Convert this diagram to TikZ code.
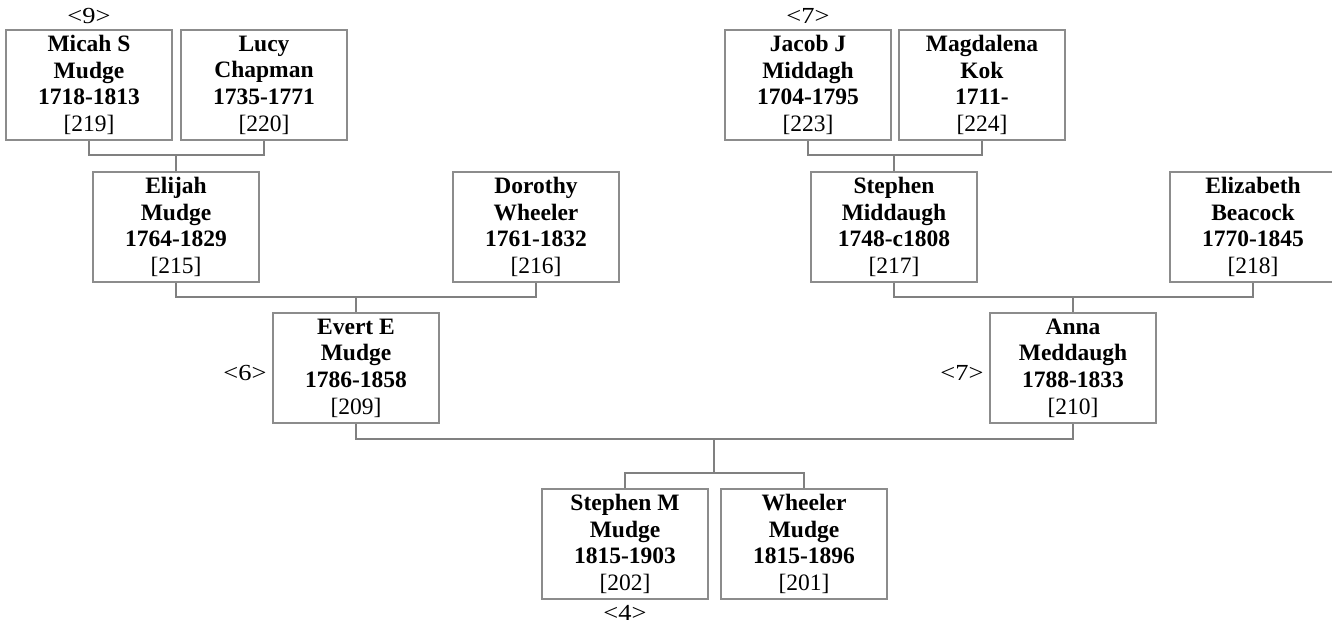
\documentclass[tikz,border=0pt]{standalone}
\usepackage{fontspec}
\usepackage{graphicx}
\setmainfont{Liberation Serif}
\newcommand{\tagtext}[1]{\scalebox{1.15}[1]{#1}}
\begin{document}
\begin{tikzpicture}[x=1pt,y=-1pt,
  person/.style={draw=black!45,line width=1.1pt,minimum width=166pt,minimum height=110pt,inner sep=0pt,align=center,font=\fontsize{23.5}{26.7}\selectfont},
  tag/.style={font=\fontsize{23}{26.7}\selectfont,inner sep=0pt,anchor=center},
  link/.style={draw=black!50,line width=1.1pt}]
\useasboundingbox (0,0) rectangle (1332,625);
% row 1
\node[person] (micah) at (89,85) {\textbf{Micah S}\\\textbf{Mudge}\\\textbf{1718-1813}\\{}[219]};
\node[person] (lucy) at (264,85) {\textbf{Lucy}\\\textbf{Chapman}\\\textbf{1735-1771}\\{}[220]};
\node[person] (jacob) at (808,85) {\textbf{Jacob J}\\\textbf{Middagh}\\\textbf{1704-1795}\\{}[223]};
\node[person] (magda) at (982,85) {\textbf{Magdalena}\\\textbf{Kok}\\\textbf{1711-}\\{}[224]};
% row 2
\node[person] (elijah) at (176,227) {\textbf{Elijah}\\\textbf{Mudge}\\\textbf{1764-1829}\\{}[215]};
\node[person] (dorothy) at (536,227) {\textbf{Dorothy}\\\textbf{Wheeler}\\\textbf{1761-1832}\\{}[216]};
\node[person] (stephen) at (894,227) {\textbf{Stephen}\\\textbf{Middaugh}\\\textbf{1748-c1808}\\{}[217]};
\node[person] (eliz) at (1253,227) {\textbf{Elizabeth}\\\textbf{Beacock}\\\textbf{1770-1845}\\{}[218]};
% row 3
\node[person] (evert) at (356,368) {\textbf{Evert E}\\\textbf{Mudge}\\\textbf{1786-1858}\\{}[209]};
\node[person] (anna) at (1073,368) {\textbf{Anna}\\\textbf{Meddaugh}\\\textbf{1788-1833}\\{}[210]};
% row 4
\node[person] (stephenm) at (625,544) {\textbf{Stephen M}\\\textbf{Mudge}\\\textbf{1815-1903}\\{}[202]};
\node[person] (wheeler) at (804,544) {\textbf{Wheeler}\\\textbf{Mudge}\\\textbf{1815-1896}\\{}[201]};
% tags
\node[tag] (t9) at ([yshift=13pt]micah.north) {\tagtext{<9>}};
\node[tag] (t7a) at ([yshift=13pt]jacob.north) {\tagtext{<7>}};
\node[tag] (t6) at ([xshift=-27.5pt,yshift=-5pt]evert.west) {\tagtext{<6>}};
\node[tag] (t7b) at ([xshift=-27.5pt,yshift=-5pt]anna.west) {\tagtext{<7>}};
\node[tag] (t4) at ([yshift=-13pt]stephenm.south) {\tagtext{<4>}};
% junctions
\coordinate (j1) at (176,155);
\coordinate (j2) at (894,155);
\coordinate (j3) at (356,297);
\coordinate (j4) at (1073,297);
\coordinate (j5) at (714,439);
\coordinate (j6) at (714,473);
% connectors
\path[link] (micah.south) |- (j1) -| (lucy.south);
\path[link] (j1) -- (elijah.north);
\path[link] (jacob.south) |- (j2) -| (magda.south);
\path[link] (j2) -- (stephen.north);
\path[link] (elijah.south) |- (j3) -| (dorothy.south);
\path[link] (j3) -- (evert.north);
\path[link] (stephen.south) |- (j4) -| (eliz.south);
\path[link] (j4) -- (anna.north);
\path[link] (evert.south) |- (j5) -| (anna.south);
\path[link] (j5) -- (j6);
\path[link] (stephenm.north) |- (j6) -| (wheeler.north);
\end{tikzpicture}
\end{document}
